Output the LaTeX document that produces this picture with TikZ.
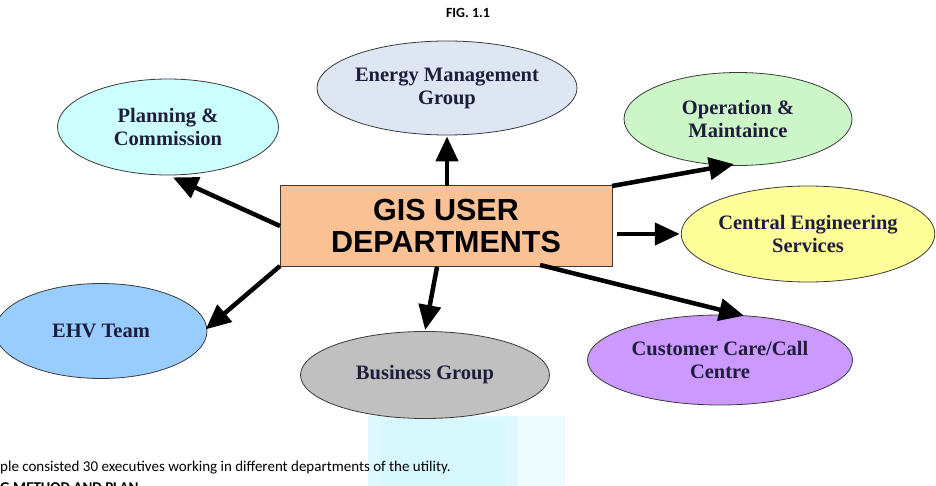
\documentclass[tikz,border=0pt]{standalone}
\usepackage{fontspec}
\setmainfont{Liberation Serif}
\newfontfamily\boxfont{Liberation Sans}
\newfontfamily\capfont{Carlito}
\usetikzlibrary{arrows.meta,shapes.geometric}
\definecolor{navytext}{HTML}{1E1E3C}
\definecolor{edgegrey}{HTML}{3A3A3A}
\definecolor{cPlan}{HTML}{CCFFFF}
\definecolor{cEnergy}{HTML}{DDE6F2}
\definecolor{cOper}{HTML}{CCF5C8}
\definecolor{cCentral}{HTML}{FFFF99}
\definecolor{cEHV}{HTML}{99CCFF}
\definecolor{cBusiness}{HTML}{C0C0C0}
\definecolor{cCustomer}{HTML}{CC99FF}
\definecolor{cBox}{HTML}{FAC195}
\definecolor{wmark}{HTML}{D6F8FC}
\begin{document}
\begin{tikzpicture}[x=1pt,y=-1pt,
  dept/.style={ellipse, draw=edgegrey, line width=0.8pt, inner sep=0pt,
    text=navytext, align=center,
    font=\fontsize{20.5}{23}\selectfont\bfseries},
  hub/.style={rectangle, draw=edgegrey, line width=1pt, fill=cBox,
    minimum width=332pt, minimum height=80pt, align=center,
    font=\boxfont\fontsize{30.5}{32}\selectfont\bfseries},
  link/.style={line width=4.5pt, black,
    -{Triangle[length=25pt,width=22pt]}, shorten >=1pt},
  capt/.style={font=\capfont\fontsize{15}{17}\selectfont, anchor=west, inner sep=0pt}
]
\useasboundingbox (0,0) rectangle (936,486);
\clip (0,0) rectangle (936,486);
% faint watermark
\fill[wmark!45] (515,416) rectangle (565,486);
\fill[wmark!80] (368,416) rectangle (518,486);
\fill[wmark] (380,420) rectangle (505,486);

\node[font=\capfont\fontsize{14}{16}\selectfont\bfseries] (fig) at (468,13) {FIG. 1.1};

\node[hub] (hub) at (446,226) {GIS USER\\DEPARTMENTS};

\node[dept, fill=cEnergy, minimum width=243pt, minimum height=94pt] (energy) at (447,88) {Energy Management\\Group};
\node[dept, fill=cPlan, minimum width=221pt, minimum height=96pt] (plan) at (168,127) {Planning \&\\Commission};
\node[dept, fill=cOper, minimum width=228pt, minimum height=93pt] (oper) at (738,119) {Operation \&\\Maintaince};
\node[dept, fill=cCentral, minimum width=209pt, minimum height=96pt] (central) at (808,234) {Central Engineering\\Services};
\node[dept, fill=cEHV, minimum width=212pt, minimum height=95pt] (ehv) at (101,331) {EHV Team};
\node[dept, fill=cBusiness, minimum width=249pt, minimum height=87pt] (business) at (425,375) {Business Group};
\node[dept, fill=cCustomer, minimum width=265pt, minimum height=90pt] (customer) at (720,360) {Customer Care/Call\\Centre};

\coordinate (hubTop) at (447,186);
\coordinate (hubNW) at (280,226);
\coordinate (hubNE) at (612,186);
\coordinate (hubE) at (617,234);
\coordinate (hubSE) at (540,265);
\coordinate (hubS) at (437,267);
\coordinate (hubSW) at (280,266);

\draw[link] (hubTop) -- (energy.south);
\draw[link] (hubNW) -- (172,177);
\draw[link] (hubNE) -- (735,164);
\draw[link] (hubE) -- (central.west);
\draw[link] (hubSE) -- (745,316);
\draw[link] (hubS) -- (425,331);
\draw[link] (hubSW) -- (205,330);

\node[capt] (line1) at (0,468) {ple consisted 30 executives working in different departments of the utility.};
\node[capt, font=\capfont\fontsize{15}{17}\selectfont\bfseries, anchor=base west] (line2) at (0,492) {G METHOD AND PLAN};
\end{tikzpicture}
\end{document}
